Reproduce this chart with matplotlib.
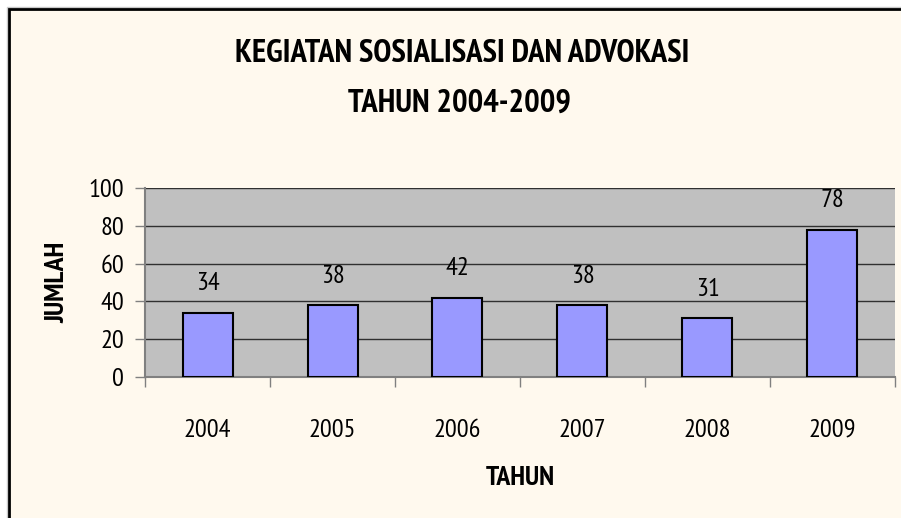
import matplotlib
matplotlib.use("Agg")
import matplotlib.pyplot as plt
from matplotlib.patches import Rectangle

years = ["2004", "2005", "2006", "2007", "2008", "2009"]
jumlah = [34, 38, 42, 38, 31, 78]
y_ticks = [0, 20, 40, 60, 80, 100]

# condensed sans, close to the Myriad Condensed of the original
FONT = ["PT Sans Narrow", "Fira Sans Condensed", "Roboto Condensed",
        "Archivo Narrow", "DejaVu Sans"]
CREAM = "#FFF9EE"
W, H = 901, 518

fig = plt.figure(figsize=(W / 100, H / 100), dpi=100, facecolor="white")

# chart frame (Excel style): white margin, thin grey line, black border
fig.patches.append(Rectangle((7 / W, -0.1), 1.2, 1 - 7 / H + 0.1,
                             transform=fig.transFigure, facecolor="none",
                             edgecolor="#c8c8c8", linewidth=1, zorder=-2))
fig.patches.append(Rectangle((9 / W, -0.1), 1.2, 1 - 9 / H + 0.1,
                             transform=fig.transFigure, facecolor=CREAM,
                             edgecolor="black", linewidth=2, zorder=-1))

ax = fig.add_axes([145 / W, (H - 377) / H, (895 - 145) / W, (377 - 188) / H])
ax.set_facecolor("#C0C0C0")

x = list(range(len(years)))
ax.bar(x, jumlah, width=0.4, color="#9999FF", edgecolor="black",
       linewidth=1.5, zorder=3)

for i, v in enumerate(jumlah):
    ax.annotate(str(v), (i, v), xytext=(0, 21), textcoords="offset points",
                ha="center", va="center", fontsize=19, family=FONT)

ax.set_xlim(-0.5, len(years) - 0.5)
ax.set_ylim(0, 100)
ax.set_yticks(y_ticks)
ax.set_yticklabels([str(t) for t in y_ticks], family=FONT, fontsize=19)
ax.yaxis.grid(True, color="#303030", linewidth=1, zorder=1)
ax.tick_params(axis="y", length=7, width=1, color="#808080", pad=8)

# category boundaries as major ticks, names as minor ticks
ax.set_xticks([i - 0.5 for i in range(len(years) + 1)])
ax.set_xticklabels([])
ax.set_xticks(x, minor=True)
ax.set_xticklabels(years, minor=True, family=FONT, fontsize=19)
ax.tick_params(axis="x", which="major", length=7, width=1, color="#808080")
ax.tick_params(axis="x", which="minor", length=0, pad=30)

for s in ("top", "right"):
    ax.spines[s].set_visible(False)
for s in ("left", "bottom"):
    ax.spines[s].set_color("#808080")
    ax.spines[s].set_linewidth(1.5)

fig.text(462 / W, 1 - 54 / H, "KEGIATAN SOSIALISASI DAN ADVOKASI",
         ha="center", va="center", fontsize=23.5, fontweight="bold",
         family=FONT)
fig.text(460 / W, 1 - 104 / H, "TAHUN 2004-2009",
         ha="center", va="center", fontsize=23.5, fontweight="bold",
         family=FONT)
fig.text(520 / W, 1 - 478 / H, "TAHUN", ha="center", va="center",
         fontsize=20, fontweight="bold", family=FONT)
fig.text(57 / W, 1 - 282 / H, "JUMLAH", ha="center", va="center",
         rotation=90, fontsize=20, fontweight="bold", family=FONT)

fig.savefig("out.png", dpi=100, facecolor="white")
